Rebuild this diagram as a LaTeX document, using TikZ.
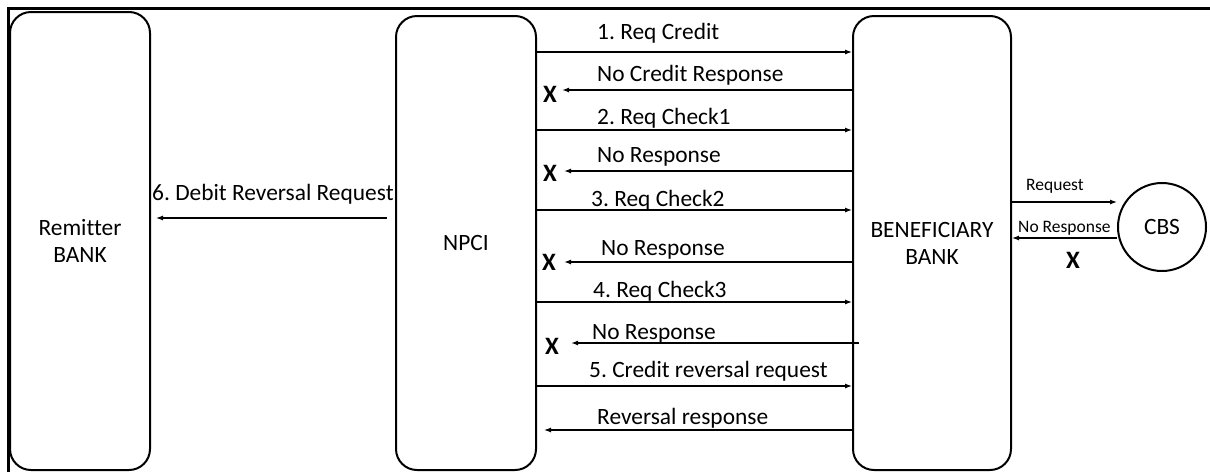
\documentclass[tikz,border=0pt]{standalone}
\usepackage{fontspec}
\setmainfont{Carlito}[Ligatures=NoCommon]
\usetikzlibrary{arrows.meta}
\frenchspacing

\begin{document}
\begin{tikzpicture}[
    x=1pt, y=-1pt,
    every node/.style={font=\fontsize{23.4}{27}\selectfont, inner sep=0pt},
    party/.style={draw, line width=2pt, rounded corners=21pt, minimum height=454pt, align=center},
    msg/.style={line width=1.2pt, -{Latex[length=7pt,width=5pt]}},
    lbl/.style={anchor=base west},
    small/.style={anchor=base west, font=\fontsize{17.5}{21}\selectfont},
    xmark/.style={font=\fontsize{25}{28}\selectfont\bfseries}
]
\useasboundingbox (0,0) rectangle (1210,472);
\draw[line width=3pt] (1210,8) -- (8,8) -- (8,472);

\node[party, minimum width=140pt, minimum height=458pt] (remitter) at (80,241) {Remitter\\BANK};
\node[party, minimum width=140pt] (npci) at (466,243) {NPCI};
\node[party, minimum width=158pt] (bene) at (932,243) {BENEFICIARY\\BANK};
\node[draw, circle, line width=2pt, minimum size=88pt] (cbs) at (1162,227) {CBS};

\node[xmark] (xa) at (550,94) {X};
\node[xmark] (xb) at (550,173) {X};
\node[xmark] (xc) at (549,262) {X};
\node[xmark] (xd) at (552,346) {X};
\node[xmark] (xe) at (1073,260) {X};

\draw[msg] (npci.east |- 0,52) -- (bene.west |- 0,52);
\node[lbl] at (597,39) {1. Req Credit};
\draw[msg, shorten >=5pt] (bene.west |- 0,90) -- (xa.east |- 0,90);
\node[lbl] at (597,81) {No Credit Response};
\draw[msg] (npci.east |- 0,130) -- (bene.west |- 0,130);
\node[lbl] at (597,124) {2. Req Check1};
\draw[msg, shorten >=7pt] (bene.west |- 0,171) -- (xb.east |- 0,171);
\node[lbl] at (597,162) {No Response};
\draw[msg] (npci.east |- 0,210) -- (bene.west |- 0,210);
\node[lbl] at (591,206) {3. Req Check2};
\draw[msg, shorten >=8pt] (bene.west |- 0,262) -- (xc.east |- 0,262);
\node[lbl] at (601,255) {No Response};
\draw[msg] (npci.east |- 0,302) -- (bene.west |- 0,302);
\node[lbl] at (593,297) {4. Req Check3};
\draw[msg, shorten >=12pt] ([xshift=7pt]bene.west |- 0,343) -- (xd.east |- 0,343);
\node[lbl] at (592,339) {No Response};
\draw[msg] (npci.east |- 0,386) -- (bene.west |- 0,386);
\node[lbl] at (589,377) {5. Credit reversal request};
\draw[msg, shorten >=7pt] (bene.west |- 0,430) -- (npci.east |- 0,430);
\node[lbl] at (597,424) {Reversal response};

\draw[msg, shorten <=8pt, shorten >=5pt] (npci.west |- 0,218) -- (remitter.east |- 0,218);
\node[lbl] at (152,200) {6. Debit Reversal Request};

\draw[msg] (bene.east |- 0,202) -- (cbs.west |- 0,202);
\node[small] at (1026,190) {Request};
\draw[msg] (cbs.west |- 0,238) -- (bene.east |- 0,238);
\node[small] at (1018,232) {No Response};
\end{tikzpicture}
\end{document}
